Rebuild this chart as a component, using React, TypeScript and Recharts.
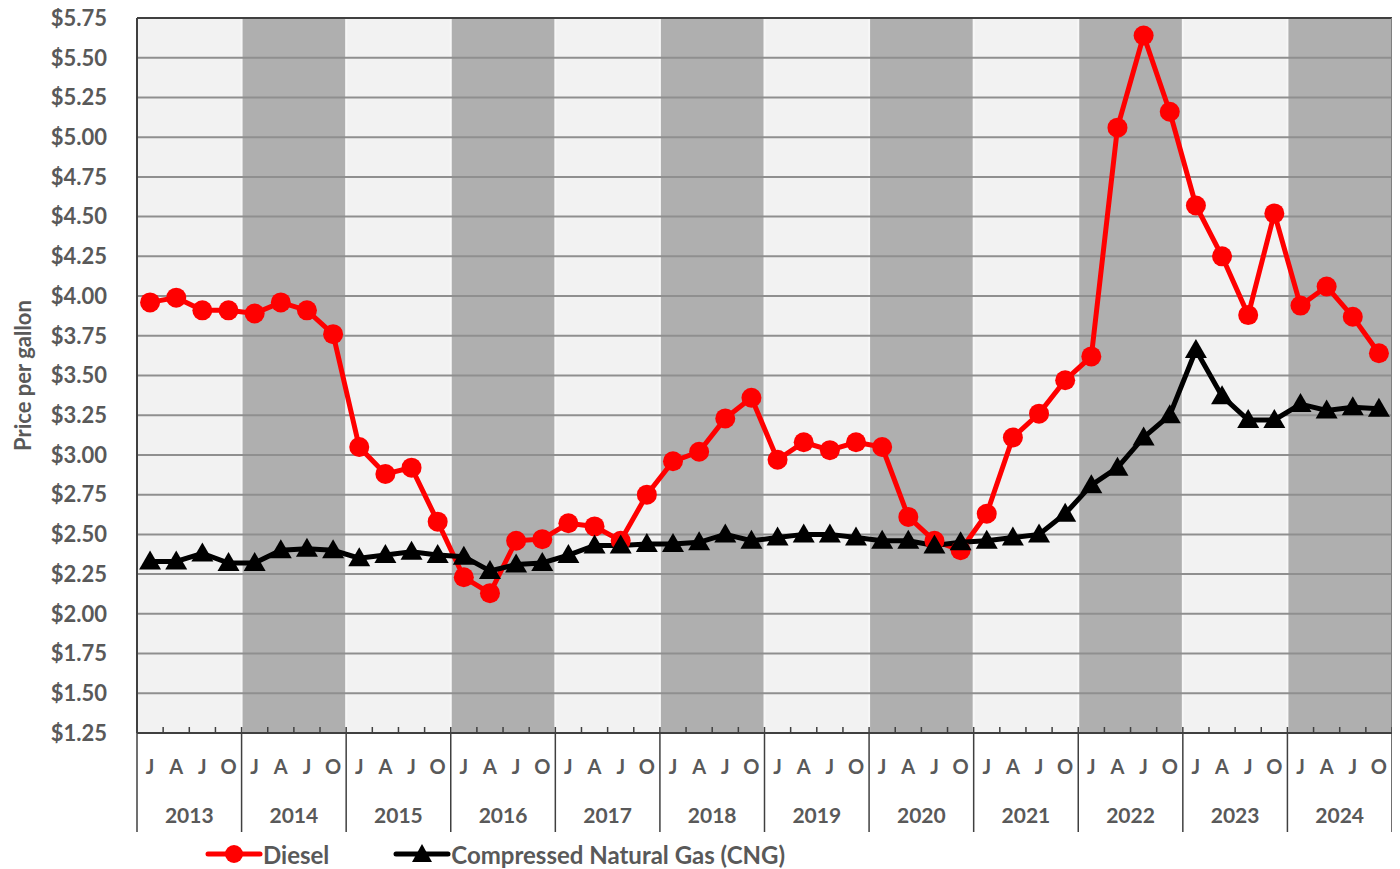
import * as React from 'react';
import {
    CartesianGrid,
    ComposedChart,
    Label,
    Legend,
    Line,
    ReferenceLine,
    XAxis,
    YAxis
} from 'recharts';

const years = ['2013', '2014', '2015', '2016', '2017', '2018', '2019', '2020', '2021', '2022', '2023', '2024'];
const quarters = ['J', 'A', 'J', 'O'];

// quarterly average retail price, $/gallon
const diesel = [
    3.96, 3.99, 3.91, 3.91,
    3.89, 3.96, 3.91, 3.76,
    3.05, 2.88, 2.92, 2.58,
    2.23, 2.13, 2.46, 2.47,
    2.57, 2.55, 2.46, 2.75,
    2.96, 3.02, 3.23, 3.36,
    2.97, 3.08, 3.03, 3.08,
    3.05, 2.61, 2.46, 2.40,
    2.63, 3.11, 3.26, 3.47,
    3.62, 5.06, 5.64, 5.16,
    4.57, 4.25, 3.88, 4.52,
    3.94, 4.06, 3.87, 3.64
];
const cng = [
    2.33, 2.33, 2.38, 2.32,
    2.32, 2.40, 2.41, 2.40,
    2.35, 2.37, 2.39, 2.37,
    2.36, 2.27, 2.31, 2.32,
    2.37, 2.43, 2.43, 2.44,
    2.44, 2.45, 2.50, 2.46,
    2.48, 2.50, 2.50, 2.48,
    2.46, 2.46, 2.43, 2.45,
    2.46, 2.48, 2.50, 2.63,
    2.81, 2.92, 3.11, 3.25,
    3.66, 3.37, 3.22, 3.22,
    3.32, 3.28, 3.30, 3.29
];
const yTicks = [1.25, 1.5, 1.75, 2, 2.25, 2.5, 2.75, 3, 3.25, 3.5, 3.75, 4, 4.25, 4.5, 4.75, 5, 5.25, 5.5, 5.75];

const nQ = years.length * quarters.length;
const data = diesel.map((d, i) => ({ t: i + 0.5, diesel: d, cng: cng[i] }));
const qTicks = data.map(r => r.t);

const FONT = 'Lato, "Open Sans", sans-serif';
const GRAY = '#595959';

const QuarterTick = (props: any) => {
    const { x, y, index, width } = props;
    const qw = (width || 1255) / nQ;
    const left = x - qw / 2;
    const right = x + qw / 2;
    const isLast = index === nQ - 1;
    return (
        <g>
            <line x1={left} x2={left} y1={y} y2={y - 6} stroke="#404040" strokeWidth={1.5} />
            {isLast && <line x1={right} x2={right} y1={y} y2={y - 6} stroke="#404040" strokeWidth={1.5} />}
            <text x={x} y={y + 41} textAnchor="middle" fontFamily={FONT} fontSize={20} fontWeight="bold" fill={GRAY}>
                {quarters[index % quarters.length]}
            </text>
            {index % 4 === 0 && (
                <g>
                    <line x1={left} x2={left} y1={y} y2={y + 99} stroke="#404040" strokeWidth={1.5} />
                    <text x={x + 1.5 * qw} y={y + 90} textAnchor="middle" fontFamily={FONT} fontSize={21} fontWeight="bold" fill={GRAY}>
                        {years[Math.floor(index / 4)]}
                    </text>
                </g>
            )}
            {isLast && <line x1={right} x2={right} y1={y} y2={y + 99} stroke="#404040" strokeWidth={1.5} />}
        </g>
    );
};

const Triangle = (props: any) => {
    const { cx, cy, index } = props;
    if (cx == null || cy == null) return <g key={index} />;
    return (
        <polygon
            key={index}
            points={`${cx},${cy - 11} ${cx - 11},${cy + 8} ${cx + 11},${cy + 8}`}
            fill="#000"
        />
    );
};

const YTitle = (props: any) => {
    const vb = props.viewBox || { x: 0, y: 0, width: 0, height: 0 };
    const cx = vb.x + 14;
    const cy = vb.y + vb.height / 2;
    return (
        <text x={cx} y={cy} transform={`rotate(-90, ${cx}, ${cy})`} textAnchor="middle" dominantBaseline="central"
            fontFamily={FONT} fontSize={22} fontWeight="bold" fill={GRAY}>
            Price per gallon
        </text>
    );
};

const LegendBox = () => (
    <div style={{ display: 'flex', alignItems: 'center', paddingLeft: 197, paddingTop: 6, fontFamily: FONT, fontSize: 24, fontWeight: 'bold', color: GRAY, height: 30 }}>
        <svg width={58} height={24}>
            <line x1={3} x2={55} y1={12} y2={12} stroke="#ff0000" strokeWidth={5} strokeLinecap="round" />
            <circle cx={29} cy={12} r={9} fill="#ff0000" />
        </svg>
        <span>Diesel</span>
        <svg width={58} height={24} style={{ marginLeft: 64 }}>
            <line x1={3} x2={55} y1={12} y2={12} stroke="#000" strokeWidth={5} strokeLinecap="round" />
            <polygon points="29,2 19,20 39,20" fill="#000" />
        </svg>
        <span>Compressed Natural Gas (CNG)</span>
    </div>
);

export default function App() {
    return (
        <div style={{ marginTop: -8 }}>
            <ComposedChart width={1392} height={869} data={data} margin={{ top: 18, right: 8, left: 0, bottom: 6 }}>
                <CartesianGrid
                    horizontal={false}
                    stroke="#f7f7f7"
                    strokeWidth={2}
                    verticalFill={['#f2f2f2', '#afafaf']}
                    verticalCoordinatesGenerator={({ offset }: any) =>
                        years.map((_, i) => offset.left + (i * offset.width) / years.length)}
                />
                <CartesianGrid vertical={false} stroke="#8f8f8f" strokeWidth={2} />
                <XAxis
                    dataKey="t"
                    type="number"
                    domain={[0, nQ]}
                    ticks={qTicks}
                    interval={0}
                    height={100}
                    tickSize={0}
                    tickMargin={0}
                    tickLine={false}
                    axisLine={{ stroke: '#404040', strokeWidth: 2 }}
                    tick={<QuarterTick />}
                />
                <YAxis
                    type="number"
                    domain={[1.25, 5.75]}
                    ticks={yTicks}
                    interval={0}
                    width={129}
                    tickSize={0}
                    tickMargin={30}
                    tickLine={false}
                    axisLine={{ stroke: '#404040', strokeWidth: 2 }}
                    tickFormatter={(v: number) => `$${v.toFixed(2)}`}
                    tick={{ fontFamily: FONT, fontSize: 22, fontWeight: 'bold', fill: GRAY }}
                >
                    <Label content={<YTitle />} />
                </YAxis>
                <ReferenceLine y={5.75} stroke="#404040" strokeWidth={2} />
                <ReferenceLine x={nQ} stroke="#7f7f7f" strokeWidth={2} />
                <Line
                    dataKey="diesel"
                    stroke="#ff0000"
                    strokeWidth={5}
                    dot={{ r: 10, fill: '#ff0000', stroke: '#ff0000', strokeWidth: 0 }}
                    activeDot={false}
                    isAnimationActive={false}
                />
                <Line
                    dataKey="cng"
                    stroke="#000000"
                    strokeWidth={5}
                    dot={<Triangle />}
                    activeDot={false}
                    isAnimationActive={false}
                />
                <Legend verticalAlign="bottom" height={30} content={<LegendBox />} />
            </ComposedChart>
        </div>
    );
}
